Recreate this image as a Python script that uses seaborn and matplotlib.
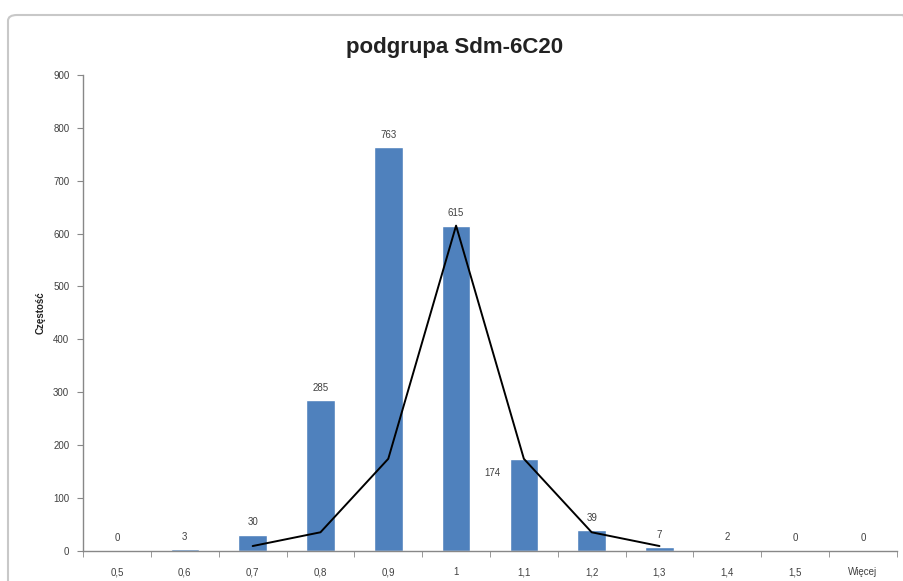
"""Histogram of podgrupa Sdm-6C20 with a fitted curve, Excel-style."""

import matplotlib

matplotlib.use("Agg")
import pandas as pd
import seaborn as sns
from matplotlib import pyplot as plt
from matplotlib.patches import FancyBboxPatch

categories = ["0,5", "0,6", "0,7", "0,8", "0,9", "1", "1,1", "1,2", "1,3", "1,4", "1,5", "Więcej"]
counts = [0, 3, 30, 285, 763, 615, 174, 39, 7, 2, 0, 0]

curve_categories = ["0,7", "0,8", "0,9", "1", "1,1", "1,2", "1,3"]
curve_values = [9, 35, 174, 615, 174, 35, 9]

BAR_COLOR = "#4F81BD"
TEXT_COLOR = "#404040"

sns.set_style("white")
plt.rcParams["font.family"] = ["Liberation Sans", "DejaVu Sans"]

df = pd.DataFrame({"bin": categories, "count": counts})

fig = plt.figure(figsize=(9.04, 5.81), dpi=100)
ax = fig.add_axes([0.092, 0.052, 0.9, 0.819])

sns.barplot(data=df, x="bin", y="count", color=BAR_COLOR, width=0.42, saturation=1, ax=ax)

curve_x = [categories.index(c) for c in curve_categories]
sns.lineplot(x=curve_x, y=curve_values, color="black", linewidth=1.4, ax=ax)

# data labels; the 1,1 label sits left of its bar like in the original
for i, v in enumerate(counts):
    if categories[i] == "1,1":
        ax.annotate(str(v), (i, v), xytext=(-23, -10), textcoords="offset points",
                    ha="center", va="center", fontsize=7, color=TEXT_COLOR)
    else:
        ax.annotate(str(v), (i, v), xytext=(0, 9), textcoords="offset points",
                    ha="center", va="center", fontsize=7, color=TEXT_COLOR)

ax.set_xlim(-0.5, len(categories) - 0.5)
ax.set_ylim(0, 900)
ax.set_yticks(range(0, 901, 100))
ax.set_xlabel("")
ax.set_ylabel("Częstość", fontsize=7, fontweight="bold", color="#222222", labelpad=5)

fig.text(455 / 904, 1 - 47 / 581, "podgrupa Sdm-6C20", fontsize=16, fontweight="bold",
         color="#222222", ha="center", va="center")

ax.set_xticks([i + 0.5 for i in range(-1, len(categories))], minor=True)
ax.tick_params(axis="x", which="major", length=0, pad=12, labelsize=7, labelcolor=TEXT_COLOR)
ax.tick_params(axis="x", which="minor", length=4, color="#888888", direction="out", bottom=True)
ax.tick_params(axis="y", length=4, color="#888888", direction="out", left=True, pad=6,
               labelsize=7, labelcolor=TEXT_COLOR)

sns.despine(ax=ax)
for side in ("left", "bottom"):
    ax.spines[side].set_color("#888888")
    ax.spines[side].set_linewidth(1.0)

# chart-area border
border = FancyBboxPatch((8 / 904, -0.05), 1.0, 1.0 - 15 / 581 + 0.05,
                        boxstyle="round,pad=0,rounding_size=0.01",
                        transform=fig.transFigure, fill=False, edgecolor="#c8c8c8",
                        linewidth=1.5, clip_on=False)
fig.patches.append(border)

fig.savefig("out.png", dpi=100)
